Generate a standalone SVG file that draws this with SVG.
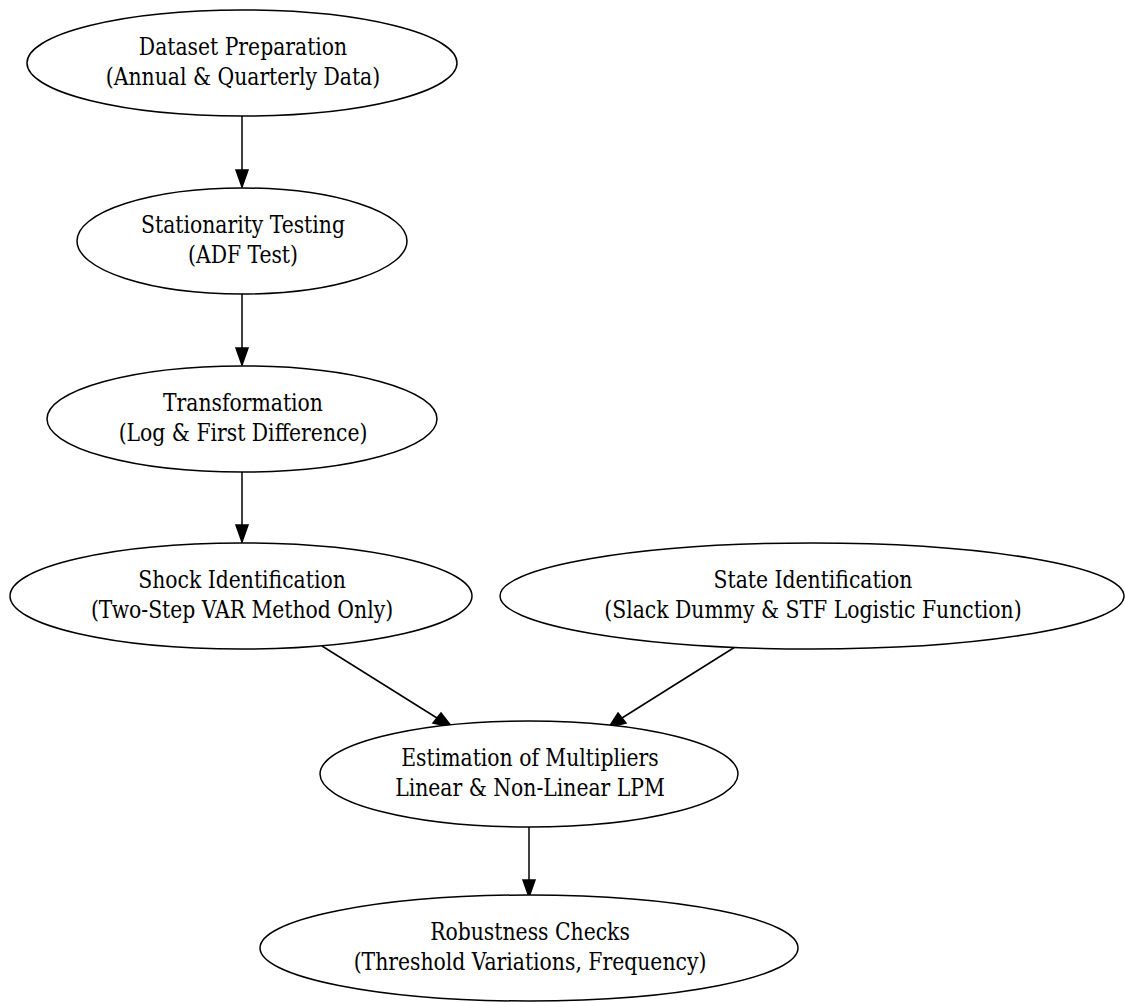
<svg xmlns="http://www.w3.org/2000/svg" width="1125" height="1002" viewBox="0 0 1125 1002">
<defs>
<style>
.n ellipse{fill:#fff;stroke:#000;stroke-width:1.5}
.n text{font-family:"DejaVu Serif Condensed","DejaVu Serif",serif;font-stretch:condensed;font-size:24px;text-anchor:middle;fill:#000}
.e path{fill:none;stroke:#000;stroke-width:1.5}
.e polygon{fill:#000;stroke:#000;stroke-width:1.5}
</style>
</defs>
<rect width="1125" height="1002" fill="#fff"/>
<g class="e" id="edges">
<path d="M242,116 L242,170"/><polygon points="236,170 248,170 242,187"/>
<path d="M242,294 L242,348"/><polygon points="236,348 248,348 242,365"/>
<path d="M242,472 L242,525"/><polygon points="236,525 248,525 242,542"/>
<path d="M322,646 L437,718"/><polygon points="433,723 441,713 452,727"/>
<path d="M735,647 L622,718"/><polygon points="618,713 626,723 609,727"/>
<path d="M529,827 L529,880"/><polygon points="523,880 535,880 529,897"/>
</g>
<g class="n" id="n1"><ellipse cx="242" cy="63" rx="215" ry="53"/><g transform="translate(243 0) scale(0.943 1)"><text x="0" y="55">Dataset Preparation</text><text x="0" y="85">(Annual &amp; Quarterly Data)</text></g></g>
<g class="n" id="n2"><ellipse cx="242" cy="241" rx="165" ry="53"/><g transform="translate(243 0) scale(0.943 1)"><text x="0" y="233">Stationarity Testing</text><text x="0" y="263">(ADF Test)</text></g></g>
<g class="n" id="n3"><ellipse cx="242" cy="419" rx="195" ry="53"/><g transform="translate(243 0) scale(0.943 1)"><text x="0" y="411">Transformation</text><text x="0" y="441">(Log &amp; First Difference)</text></g></g>
<g class="n" id="n4"><ellipse cx="241" cy="596" rx="231" ry="53"/><g transform="translate(242 0) scale(0.943 1)"><text x="0" y="588">Shock Identification</text><text x="0" y="618">(Two-Step VAR Method Only)</text></g></g>
<g class="n" id="n5"><ellipse cx="812" cy="596" rx="312" ry="53"/><g transform="translate(813 0) scale(0.943 1)"><text x="0" y="588">State Identification</text><text x="0" y="618">(Slack Dummy &amp; STF Logistic Function)</text></g></g>
<g class="n" id="n6"><ellipse cx="529" cy="774" rx="209" ry="53"/><g transform="translate(530 0) scale(0.943 1)"><text x="0" y="766">Estimation of Multipliers</text><text x="0" y="796">Linear &amp; Non-Linear LPM</text></g></g>
<g class="n" id="n7"><ellipse cx="529" cy="948" rx="269" ry="53"/><g transform="translate(530 0) scale(0.943 1)"><text x="0" y="940">Robustness Checks</text><text x="0" y="970">(Threshold Variations, Frequency)</text></g></g>
</svg>
